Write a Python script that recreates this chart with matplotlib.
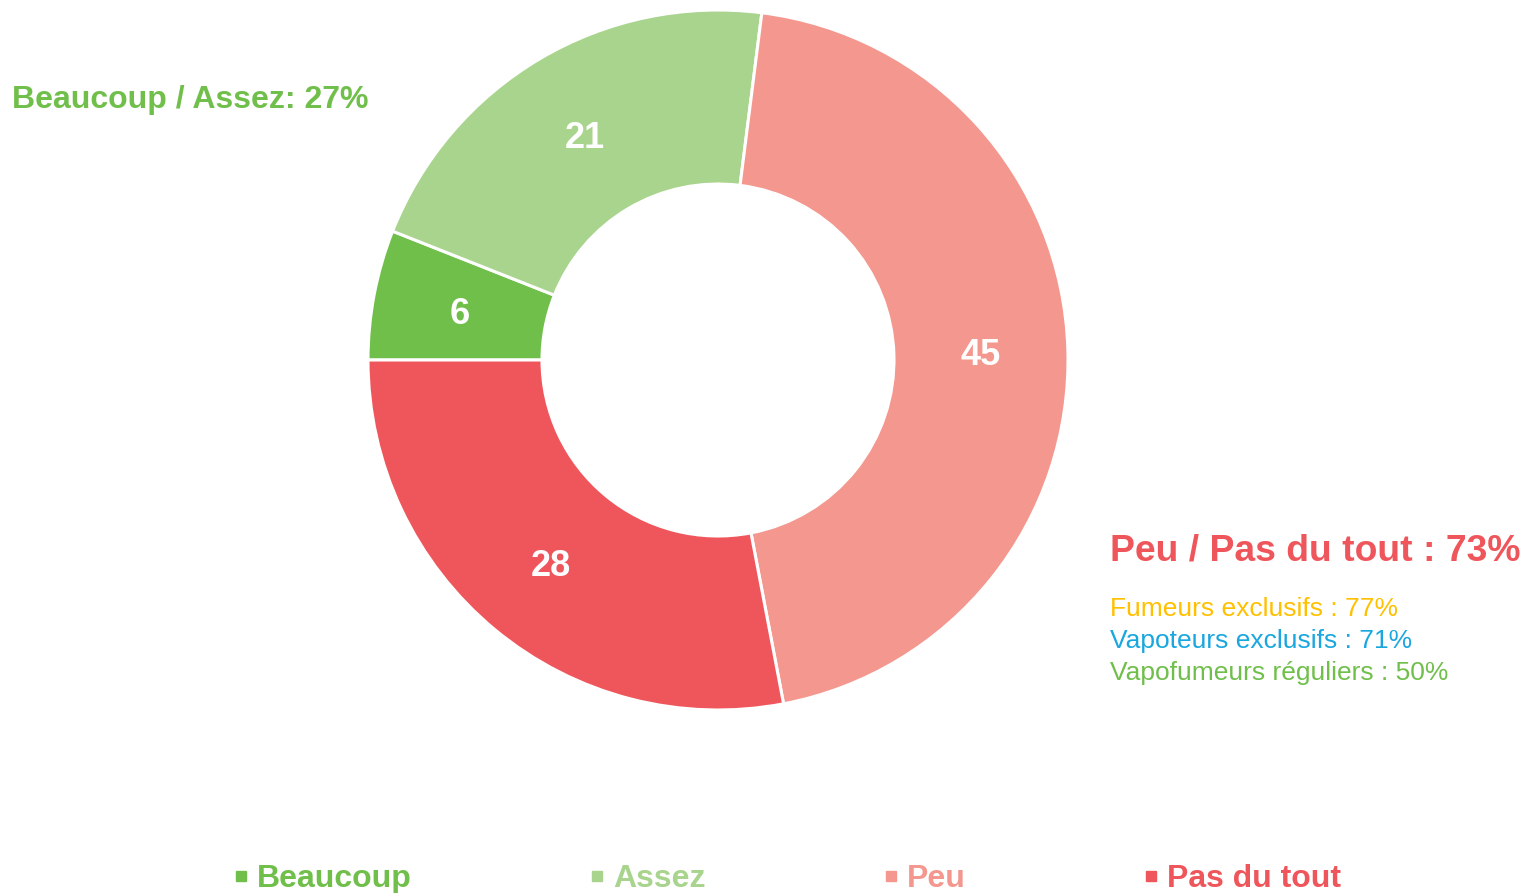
import matplotlib.pyplot as plt
from matplotlib.lines import Line2D

plt.rcParams['font.family'] = ['Liberation Sans', 'DejaVu Sans']

# data
categories = ['Beaucoup', 'Assez', 'Peu', 'Pas du tout']
values = [6, 21, 45, 28]
colors = ['#70BF4B', '#A9D48E', '#F4978E', '#EF565B']

group_low = 'Peu / Pas du tout : 73%'
group_high = 'Beaucoup / Assez: 27%'
sub_labels = ['Fumeurs exclusifs : 77%', 'Vapoteurs exclusifs : 71%',
              'Vapofumeurs réguliers : 50%']
sub_colors = ['#FFC000', '#1AA7DF', '#70BF4B']

fig = plt.figure(figsize=(15.24, 8.93), dpi=100)
ax = fig.add_axes([0, 0, 1, 1])
ax.set_xlim(0, 1524)
ax.set_ylim(0, 893)
ax.set_aspect('equal')
ax.axis('off')

wedges, texts = ax.pie(values, colors=colors, startangle=180, counterclock=False,
                       center=(718, 533), radius=350, labels=[str(v) for v in values],
                       labeldistance=0.75,
                       wedgeprops=dict(width=174, edgecolor='white', linewidth=2.2),
                       textprops=dict(color='white', fontsize=26, fontweight='bold'))
for t in texts:
    t.set_ha('center')
    t.set_va('center')
    x, y = t.get_position()
    t.set_position((x, y - 4))
ax.set_xlim(0, 1524)
ax.set_ylim(0, 893)

# side annotations
ax.text(12, 793, group_high, color=colors[0], fontsize=23, fontweight='bold',
        ha='left', va='center')
ax.text(1110, 342, group_low, color=colors[3], fontsize=26.8, fontweight='bold',
        ha='left', va='center')
for i, (lab, c) in enumerate(zip(sub_labels, sub_colors)):
    ax.text(1110, 284 - i * 32, lab, color=c, fontsize=19, ha='left', va='center')

# legend
handles = [Line2D([], [], marker='s', linestyle='none', markersize=7,
                  markerfacecolor=c, markeredgecolor=c) for c in colors]
leg = fig.legend(handles, categories, loc='center left', bbox_to_anchor=(232 / 1524, 14 / 893),
                 ncol=4, frameon=False, fontsize=23, handlelength=0.55, handletextpad=0.22,
                 columnspacing=5.53, borderaxespad=0, borderpad=0)
for t, c in zip(leg.get_texts(), colors):
    t.set_color(c)
    t.set_fontweight('bold')

fig.savefig('out.png', dpi=100)
